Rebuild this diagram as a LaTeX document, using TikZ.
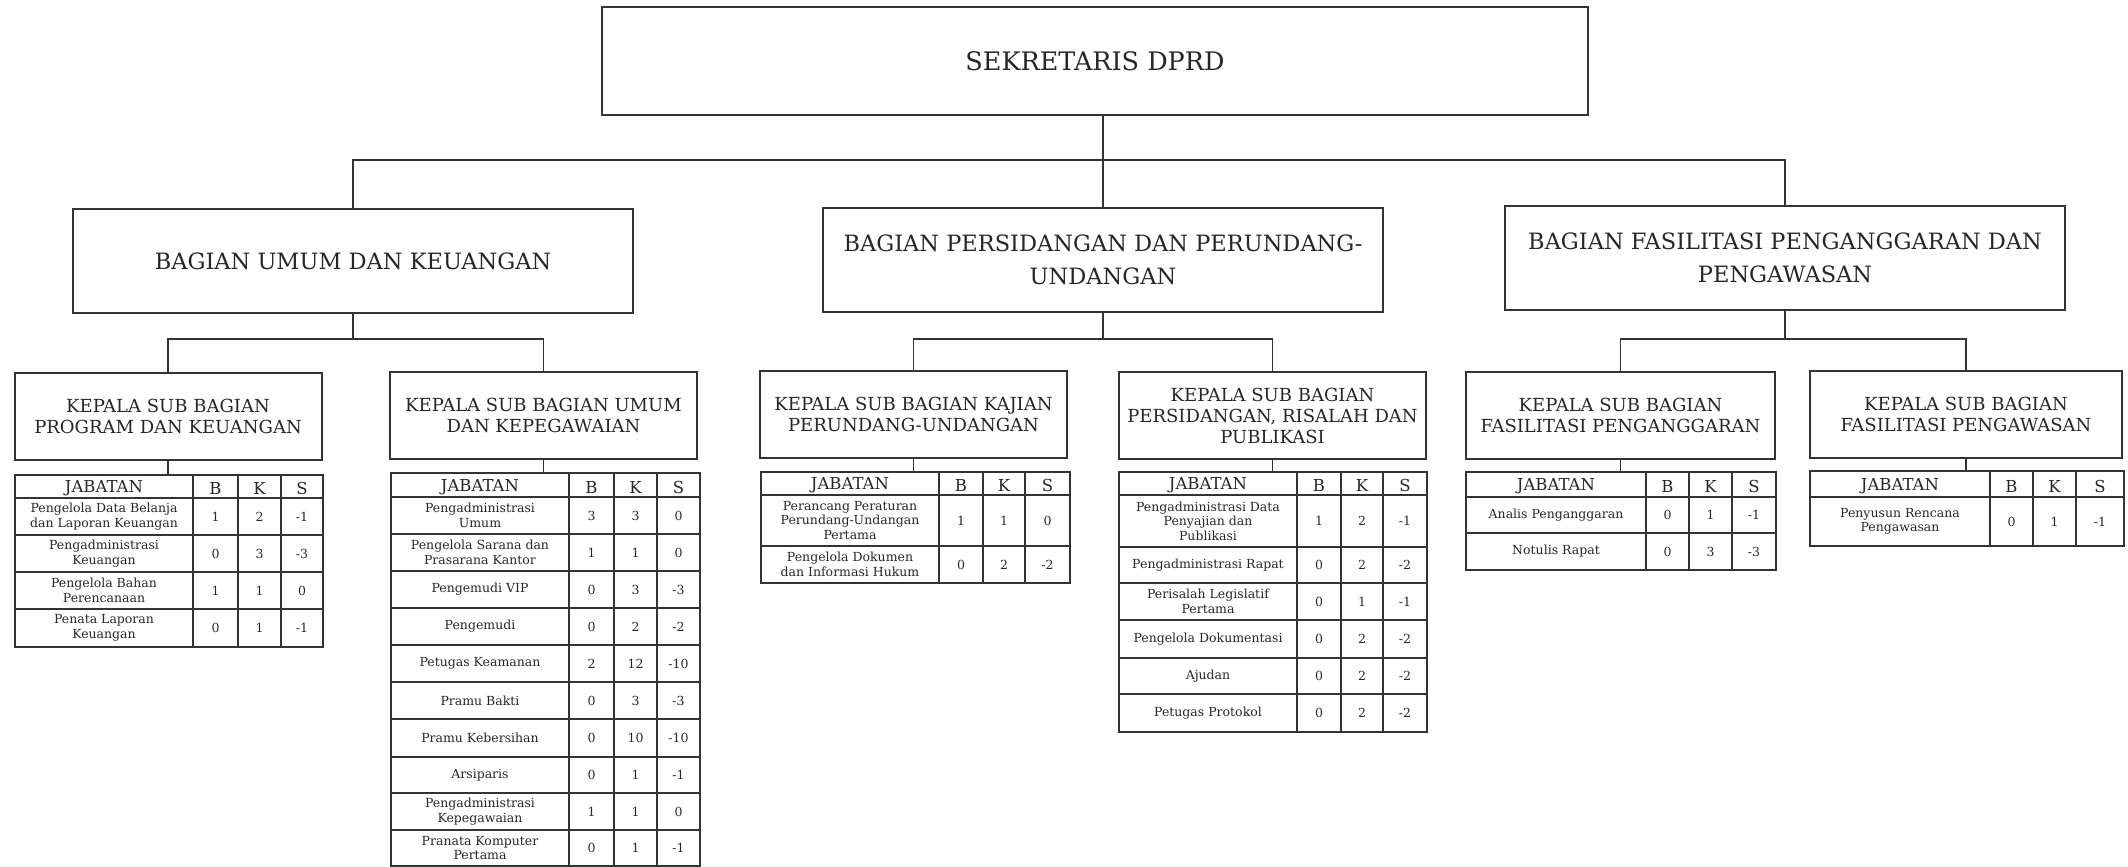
\documentclass[tikz,border=0pt]{standalone}
\usepackage{fontspec}
\setmainfont{DejaVu Serif}

% one table: name, five column edges, rows top/bottom/jabatan/B/K/S
\newcommand{\jtab}[7]{%
  \foreach \ya/\yb/\jab/\vb/\vk/\vs [count=\i] in {#7} {
    \ifnum\i=1
      \tikzset{cellfont/.style={font=\fontsize{16.5}{18}\selectfont, yshift=-2pt}}
      \coordinate (#1) at ({(#2+#6)/2},\ya);
    \fi
    \draw[tabline] (#2,\ya) rectangle (#3,\yb) (#3,\ya) rectangle (#4,\yb)
      (#4,\ya) rectangle (#5,\yb) (#5,\ya) rectangle (#6,\yb);
    \node[cell, cellfont] (#1-\i-j) at ({(#2+#3)/2},{(\ya+\yb)/2}) {\jab};
    \node[cell, cellfont] (#1-\i-b) at ({(#3+#4)/2},{(\ya+\yb)/2}) {\vb};
    \node[cell, cellfont] (#1-\i-k) at ({(#4+#5)/2},{(\ya+\yb)/2}) {\vk};
    \node[cell, cellfont] (#1-\i-s) at ({(#5+#6)/2},{(\ya+\yb)/2}) {\vs};
  }
}

\begin{document}
\begin{tikzpicture}[x=1pt, y=-1pt,
    box/.style={draw=black!80, line width=2pt, inner sep=0pt, align=center, text=black!85},
    conn/.style={draw=black!80, line width=1.8pt},
    tabline/.style={draw=black!80, line width=1.8pt},
    cell/.style={inner sep=0pt, align=center, text=black!85},
    cellfont/.style={font=\fontsize{12.5}{14.5}\selectfont},
    bagian/.style={box, minimum width=560pt, minimum height=104pt,
      font=\fontsize{22.5}{33}\selectfont},
    kasub/.style={box, minimum width=307pt, minimum height=87pt,
      font=\fontsize{18}{21}\selectfont}]
    \useasboundingbox (0,0) rectangle (2128,867);

    \node[box, minimum width=986pt, minimum height=108pt, font=\fontsize{25.5}{30}\selectfont]
        (sek) at (1095,61) {SEKRETARIS DPRD};

    \node[bagian] (bu) at (353,261) {BAGIAN UMUM DAN KEUANGAN};
    \node[bagian] (bp) at (1103,260) {BAGIAN PERSIDANGAN DAN PERUNDANG-\\UNDANGAN};
    \node[bagian] (bf) at (1785,258) {BAGIAN FASILITASI PENGANGGARAN DAN\\PENGAWASAN};

    \node[kasub] (ka) at (168,416.5) {KEPALA SUB BAGIAN\\PROGRAM DAN KEUANGAN};
    \node[kasub] (kb) at (543.5,415.5) {KEPALA SUB BAGIAN UMUM\\DAN KEPEGAWAIAN};
    \node[kasub] (kc) at (913.5,414) {KEPALA SUB BAGIAN KAJIAN\\PERUNDANG-UNDANGAN};
    \node[kasub] (kd) at (1272.5,415.5) {KEPALA SUB BAGIAN\\PERSIDANGAN, RISALAH DAN\\PUBLIKASI};
    \node[kasub, minimum width=309pt] (ke) at (1620.5,415) {KEPALA SUB BAGIAN\\FASILITASI PENGANGGARAN};
    \node[kasub, minimum width=312pt] (kf) at (1966,414.5) {KEPALA SUB BAGIAN\\FASILITASI PENGAWASAN};

    % tables
    \jtab{ta}{15}{193}{238}{281}{323}{475/498/JABATAN/B/K/S,
        498/535/{Pengelola Data Belanja\\dan Laporan Keuangan}/1/2/-1,
        535/572/{Pengadministrasi\\Keuangan}/0/3/-3,
        572/609/{Pengelola Bahan\\Perencanaan}/1/1/0,
        609/647/{Penata Laporan\\Keuangan}/0/1/-1}
    \jtab{tb}{391}{569}{614}{657}{700}{473/497/JABATAN/B/K/S,
        497/534/{Pengadministrasi\\Umum}/3/3/0,
        534/571/{Pengelola Sarana dan\\Prasarana Kantor}/1/1/0,
        571/608/Pengemudi VIP/0/3/-3,
        608/645/Pengemudi/0/2/-2,
        645/682/Petugas Keamanan/2/12/-10,
        682/719/Pramu Bakti/0/3/-3,
        719/757/Pramu Kebersihan/0/10/-10,
        757/793/Arsiparis/0/1/-1,
        793/830/{Pengadministrasi\\Kepegawaian}/1/1/0,
        830/866/{Pranata Komputer\\Pertama}/0/1/-1}
    \jtab{tc}{761}{939}{983}{1025}{1070}{472/495/JABATAN/B/K/S,
        495/546/{Perancang Peraturan\\Perundang-Undangan\\Pertama}/1/1/0,
        546/583/{Pengelola Dokumen\\dan Informasi Hukum}/0/2/-2}
    \jtab{td}{1119}{1297}{1341}{1383}{1427}{472/495/JABATAN/B/K/S,
        495/547/{Pengadministrasi Data\\Penyajian dan\\Publikasi}/1/2/-1,
        547/583/Pengadministrasi Rapat/0/2/-2,
        583/620/{Perisalah Legislatif\\Pertama}/0/1/-1,
        620/658/Pengelola Dokumentasi/0/2/-2,
        658/694/Ajudan/0/2/-2,
        694/732/Petugas Protokol/0/2/-2}
    \jtab{te}{1466}{1646}{1689}{1732}{1776}{472/497/JABATAN/B/K/S,
        497/533/Analis Penganggaran/0/1/-1,
        533/570/Notulis Rapat/0/3/-3}
    \jtab{tf}{1810}{1990}{2033}{2076}{2124}{471/497/JABATAN/B/K/S,
        497/546/{Penyusun Rencana\\Pengawasan}/0/1/-1}

    % connectors
    \coordinate (bar) at (0,160);
    \coordinate (bar2) at (0,339);
    \draw[conn] (bp.north) -- (bp.north |- sek.south);
    \draw[conn] (bu.north) |- (bar -| bf.north) -- (bf.north);

    \draw[conn] (bu.south) -- (bu.south |- bar2);
    \draw[conn] (ka.north) |- (bar2 -| kb.north) -- (kb.north);
    \draw[conn] (bp.south) -- (bp.south |- bar2);
    \draw[conn] (kc.north) |- (bar2 -| kd.north) -- (kd.north);
    \draw[conn] (bf.south) -- (bf.south |- bar2);
    \draw[conn] (ke.north) |- (bar2 -| kf.north) -- (kf.north);

    \draw[conn] (ka.south) -- (ka.south |- ta);
    \draw[conn] (kb.south) -- (kb.south |- tb);
    \draw[conn] (kc.south) -- (kc.south |- tc);
    \draw[conn] (kd.south) -- (kd.south |- td);
    \draw[conn] (ke.south) -- (ke.south |- te);
    \draw[conn] (kf.south) -- (kf.south |- tf);
\end{tikzpicture}
\end{document}
